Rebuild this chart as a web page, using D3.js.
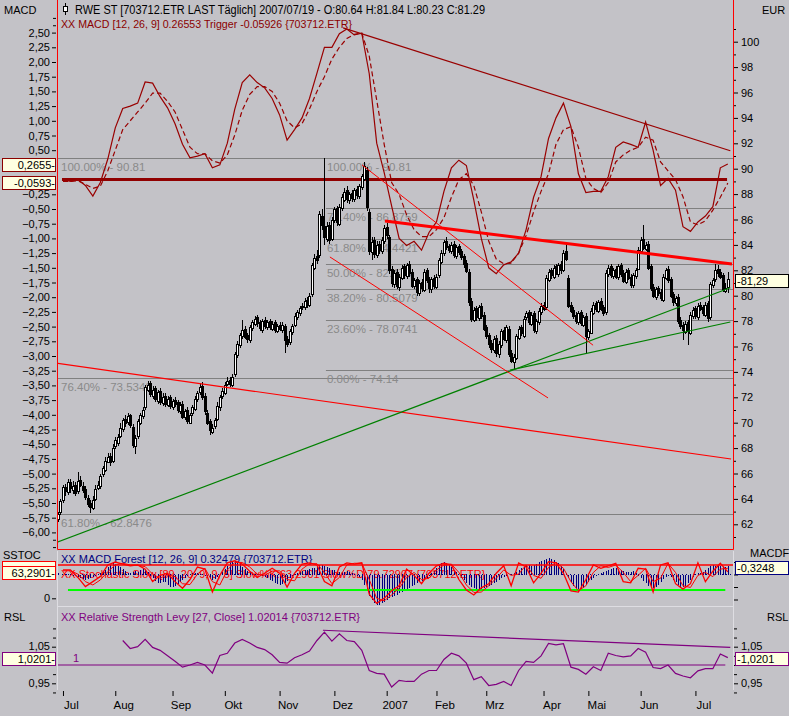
<!DOCTYPE html>
<html>
<head>
<meta charset="utf-8">
<script src="https://cdn.jsdelivr.net/npm/d3@7"></script>
<style>
  html, body { margin: 0; padding: 0; background: #c3c2c7; }
  svg { display: block; font-family: "Liberation Sans", Arial, sans-serif; font-size: 11px; }
</style>
</head>
<body>
<svg id="chart" width="789" height="716"></svg>
<script>
// ---- data (bar index 0 = first candle, 269 = 2007/07/19) ----
const opens = [
  62.4, 62.9, 63.9, 64.9, 64.5, 65.3, 64.7, 65.1, 64.6, 65.5,
  65.0, 64.8, 64.1, 63.7, 63.3, 64.0, 64.9, 65.0, 65.9, 66.3,
  66.9, 67.4, 67.0, 68.1, 68.4, 69.0, 69.5, 70.3, 70.0, 70.6,
  69.7, 68.2, 68.9, 70.0, 70.5, 71.2, 72.6, 73.1, 72.1, 72.7,
  71.7, 72.5, 71.5, 72.1, 71.4, 72.0, 71.2, 71.8, 71.6, 70.9,
  71.5, 70.4, 71.0, 70.0, 70.7, 71.1, 71.8, 72.4, 72.9, 72.1,
  70.8, 70.1, 69.3, 69.7, 70.3, 71.2, 72.1, 72.4, 73.1, 73.4,
  73.0, 73.8, 75.3, 76.1, 76.8, 77.4, 76.9, 76.5, 77.4, 77.8,
  78.3, 77.9, 77.3, 78.1, 77.5, 78.0, 77.4, 77.9, 77.2, 77.7,
  77.3, 77.6, 76.6, 76.3, 77.1, 77.7, 78.3, 78.6, 79.1, 79.1,
  79.7, 79.3, 80.1, 82.2, 83.1, 83.2, 86.3, 85.5, 84.5, 85.6,
  84.5, 85.9, 86.9, 85.7, 86.9, 87.6, 88.3, 87.5, 88.1, 87.6,
  88.4, 87.8, 88.5, 89.2, 89.9, 86.6, 83.4, 84.4, 83.2, 84.1,
  83.5, 84.3, 85.4, 84.6, 82.1, 80.9, 81.9, 80.7, 81.4, 82.3,
  81.5, 82.5, 81.9, 80.7, 81.3, 80.2, 81.1, 80.5, 82.0, 81.3,
  80.5, 81.4, 80.7, 81.6, 82.7, 83.3, 84.3, 83.9, 83.5, 84.1,
  83.1, 83.9, 83.5, 83.1, 82.6, 81.9, 79.6, 78.1, 79.0, 78.2,
  79.2, 78.5, 77.5, 76.9, 76.3, 75.7, 76.7, 75.4, 76.1, 77.3,
  76.5, 77.4, 75.5, 74.8, 75.1, 76.7, 77.5, 76.9, 78.3, 78.7,
  77.8, 78.6, 77.2, 77.9, 78.7, 79.3, 79.1, 81.3, 82.0, 81.5,
  82.3, 81.7, 82.5, 82.1, 83.5, 81.4, 79.3, 78.9, 78.5, 77.9,
  78.7, 77.7, 78.4, 76.7, 77.1, 78.7, 79.4, 78.8, 79.6, 79.1,
  78.7, 81.7, 82.3, 81.5, 82.1, 81.4, 82.4, 81.8, 81.1, 82.0,
  81.5, 80.8, 81.5, 82.1, 83.5, 84.5, 83.7, 84.1, 82.3, 80.7,
  79.9, 80.6, 80.3, 79.7, 81.4, 82.1, 81.3, 80.1, 79.4, 79.9,
  78.1, 77.7, 77.2, 77.9, 77.1, 78.4, 79.0, 78.3, 79.3, 79.1,
  78.5, 79.4, 78.3, 80.8, 81.3, 82.1, 81.9, 81.6, 80.4, 80.64
];
const highs = [
  63.0, 64.0, 65.1, 65.2, 65.6, 65.6, 65.4, 65.3, 66.1, 65.8,
  65.3, 65.0, 64.3, 63.9, 64.2, 65.1, 65.4, 66.0, 66.6, 67.3,
  67.6, 67.6, 68.3, 68.9, 69.1, 70.0, 70.4, 70.6, 70.8, 70.7,
  69.9, 69.0, 70.3, 70.8, 71.2, 73.0, 73.3, 73.3, 72.9, 72.9,
  72.6, 72.7, 72.3, 72.3, 72.1, 72.2, 71.9, 72.0, 71.8, 71.6,
  71.7, 71.1, 71.2, 70.8, 71.4, 72.1, 72.5, 73.1, 73.2, 72.3,
  71.0, 70.3, 69.9, 70.4, 71.6, 72.2, 72.7, 73.2, 73.6, 73.6,
  73.8, 75.6, 76.4, 77.1, 78.1, 77.6, 77.1, 77.7, 78.1, 78.4,
  78.5, 78.1, 78.2, 78.3, 78.1, 78.2, 78.0, 78.1, 77.8, 77.9,
  77.9, 77.8, 76.8, 77.4, 77.8, 78.6, 78.9, 79.2, 79.4, 79.8,
  79.9, 80.2, 82.6, 83.3, 83.6, 86.7, 86.8, 90.81, 85.8, 85.8,
  86.2, 87.0, 87.1, 87.2, 88.0, 88.5, 88.6, 88.2, 88.3, 88.5,
  88.6, 88.8, 89.6, 90.5, 90.1, 86.8, 84.6, 84.6, 84.3, 84.3,
  84.6, 85.6, 85.7, 84.8, 82.3, 82.0, 82.1, 81.7, 82.4, 82.5,
  82.6, 82.7, 82.1, 81.4, 81.5, 81.2, 81.3, 82.1, 82.2, 81.5,
  81.5, 81.6, 81.7, 83.0, 83.6, 84.4, 84.6, 84.1, 84.2, 84.3,
  84.0, 84.1, 83.7, 83.3, 82.8, 82.1, 79.8, 79.1, 79.2, 79.3,
  79.4, 78.7, 77.7, 77.1, 76.5, 76.8, 76.9, 76.4, 77.4, 77.5,
  77.7, 77.6, 75.7, 75.4, 77.0, 77.6, 77.7, 78.4, 78.8, 78.9,
  78.7, 78.8, 78.2, 79.0, 79.4, 79.5, 81.6, 82.1, 82.2, 82.4,
  82.5, 82.6, 82.7, 83.6, 84.1, 81.6, 79.5, 79.1, 78.7, 78.8,
  78.9, 78.5, 78.6, 77.4, 79.0, 79.5, 79.6, 79.7, 79.8, 79.3,
  82.0, 82.4, 82.5, 82.2, 82.3, 82.5, 82.6, 82.0, 82.1, 82.2,
  81.7, 81.8, 82.2, 83.8, 84.6, 85.6, 84.2, 84.3, 82.5, 80.9,
  80.7, 80.8, 80.5, 81.7, 82.2, 82.3, 81.5, 80.3, 80.0, 80.1,
  78.3, 77.9, 78.0, 78.1, 78.7, 79.1, 79.2, 79.4, 79.5, 79.3,
  79.5, 79.6, 81.1, 81.4, 82.5, 82.4, 82.1, 81.8, 81.0, 81.84
];
const lows = [
  62.2, 62.7, 63.7, 64.2, 64.3, 64.5, 64.4, 64.2, 64.4, 64.9,
  64.5, 63.9, 63.4, 62.9, 63.1, 63.8, 64.7, 64.8, 65.7, 66.1,
  66.8, 66.6, 66.8, 67.9, 68.2, 68.8, 69.3, 69.7, 69.8, 69.6,
  68.0, 67.5, 68.7, 69.8, 70.3, 71.0, 72.4, 72.0, 71.9, 71.6,
  71.5, 71.4, 71.3, 71.2, 71.2, 71.1, 71.0, 71.2, 70.8, 70.7,
  70.3, 70.2, 69.9, 69.9, 70.5, 70.9, 71.6, 72.2, 71.8, 70.6,
  69.8, 69.0, 69.1, 69.5, 70.1, 70.9, 71.9, 72.2, 72.9, 72.8,
  72.8, 73.6, 75.1, 75.9, 76.6, 76.6, 76.3, 76.3, 77.2, 77.6,
  77.5, 77.2, 77.1, 77.4, 77.3, 77.3, 77.2, 77.1, 77.1, 77.2,
  77.1, 75.5, 76.0, 76.1, 76.9, 77.5, 78.1, 78.4, 78.9, 78.9,
  79.0, 79.1, 79.9, 82.0, 82.5, 83.0, 85.2, 84.0, 84.2, 84.1,
  84.3, 85.7, 85.5, 85.5, 86.7, 87.4, 87.3, 87.2, 87.4, 87.4,
  87.6, 87.6, 88.3, 89.0, 86.7, 83.2, 82.8, 83.0, 83.0, 83.3,
  83.3, 84.1, 84.5, 81.7, 80.7, 80.6, 80.5, 80.4, 81.2, 81.3,
  81.3, 81.5, 80.6, 80.5, 80.0, 80.0, 80.3, 80.3, 81.0, 80.2,
  80.2, 80.5, 80.5, 81.4, 82.5, 83.1, 83.6, 83.4, 83.3, 83.0,
  82.9, 83.2, 82.8, 82.2, 81.8, 79.2, 77.9, 77.9, 78.0, 78.0,
  78.2, 77.2, 76.6, 75.9, 75.5, 75.5, 75.2, 75.1, 75.9, 76.4,
  76.3, 75.2, 74.7, 74.14, 74.9, 76.5, 76.8, 76.7, 78.1, 77.7,
  77.6, 77.1, 77.0, 77.7, 78.5, 78.8, 78.9, 81.1, 81.3, 81.3,
  81.6, 81.5, 81.7, 81.9, 82.7, 79.0, 78.6, 78.2, 77.8, 77.7,
  77.6, 77.5, 75.5, 76.5, 77.0, 78.5, 78.7, 78.6, 78.8, 78.4,
  78.5, 81.5, 81.4, 81.3, 81.3, 81.2, 81.5, 81.0, 80.9, 81.2,
  80.6, 80.6, 81.3, 82.0, 83.3, 83.6, 83.5, 82.0, 80.4, 79.8,
  79.7, 80.0, 79.6, 79.5, 81.2, 81.0, 79.8, 79.2, 79.2, 77.8,
  77.4, 76.5, 77.0, 76.1, 76.9, 78.2, 78.2, 78.1, 78.8, 78.4,
  78.3, 77.9, 78.1, 80.6, 81.1, 81.5, 81.3, 80.3, 80.2, 80.23
];
const closes = [
  62.8, 63.8, 64.9, 64.6, 65.3, 64.8, 65.0, 64.5, 65.4, 65.1,
  64.7, 64.2, 63.6, 63.4, 63.9, 64.8, 65.1, 65.8, 66.4, 67.0,
  67.3, 66.9, 68.0, 68.6, 68.9, 69.6, 70.2, 70.0, 70.5, 69.8,
  68.3, 68.8, 70.1, 70.6, 71.0, 72.8, 73.0, 72.2, 72.6, 71.8,
  72.4, 71.6, 72.0, 71.5, 71.9, 71.3, 71.7, 71.5, 71.0, 71.4,
  70.5, 70.9, 70.1, 70.6, 71.2, 71.9, 72.3, 72.8, 72.0, 70.9,
  70.0, 69.4, 69.6, 70.2, 71.3, 72.0, 72.5, 73.0, 73.3, 73.1,
  73.6, 75.4, 76.2, 76.9, 77.3, 76.8, 76.6, 77.5, 77.9, 78.2,
  77.8, 77.4, 78.0, 77.6, 77.9, 77.5, 77.8, 77.3, 77.6, 77.4,
  77.7, 76.5, 76.2, 77.2, 77.6, 78.4, 78.7, 79.0, 79.2, 79.6,
  79.4, 80.0, 82.4, 83.0, 82.8, 86.4, 85.6, 84.6, 85.5, 84.4,
  86.0, 86.8, 85.8, 87.0, 87.8, 88.2, 87.6, 88.0, 87.7, 88.3,
  87.9, 88.6, 89.4, 90.2, 87.0, 83.5, 84.2, 83.3, 84.0, 83.6,
  84.4, 85.3, 84.8, 82.0, 81.0, 81.8, 80.8, 81.5, 82.2, 81.6,
  82.4, 81.8, 80.8, 81.2, 80.3, 81.0, 80.6, 81.9, 81.2, 80.6,
  81.3, 80.8, 81.5, 82.8, 83.4, 84.2, 83.8, 83.6, 84.0, 83.2,
  83.8, 83.4, 83.0, 82.5, 82.0, 79.5, 78.2, 78.9, 78.3, 79.1,
  78.4, 77.4, 76.8, 76.2, 75.8, 76.6, 75.5, 76.2, 77.2, 76.6,
  77.5, 75.4, 74.9, 75.2, 76.8, 77.4, 77.0, 78.2, 78.6, 77.9,
  78.5, 77.3, 78.0, 78.8, 79.2, 79.0, 81.4, 81.9, 81.6, 82.2,
  81.8, 82.4, 82.0, 83.4, 82.9, 79.2, 78.8, 78.4, 78.0, 78.6,
  77.8, 78.3, 76.8, 77.2, 78.8, 79.3, 78.9, 79.5, 79.0, 78.6,
  81.8, 82.2, 81.6, 82.0, 81.5, 82.3, 81.7, 81.2, 81.9, 81.4,
  80.9, 81.6, 82.0, 83.6, 84.4, 83.8, 84.0, 82.2, 80.6, 80.0,
  80.5, 80.2, 79.8, 81.5, 82.0, 81.2, 80.0, 79.5, 79.8, 78.0,
  77.6, 77.3, 77.8, 77.2, 78.5, 78.9, 78.4, 79.2, 79.0, 78.6,
  79.3, 78.2, 80.9, 81.2, 82.0, 81.8, 81.5, 80.5, 80.6, 81.29
];

// MACD, trigger and stochastics read every third bar, starting at bar 2
const macdVals = [
  0.0, -0.03, 0.0, -0.1, -0.28, -0.05, 0.35, 0.88, 1.21, 1.25,
  1.3, 1.66, 1.64, 1.41, 1.22, 0.95, 0.6, 0.37, 0.4, 0.44,
  0.2, 0.25, 0.62, 1.2, 1.65, 1.78, 1.65, 1.56, 1.38, 1.1,
  0.67, 0.85, 1.05, 1.38, 1.81, 2.25, 2.25, 2.48, 2.56, 2.46,
  2.49, 1.8, 0.62, 0.12, -0.45, -1.0, -1.12, -1.05, -1.2, -0.9,
  -0.72, -0.2, 0.2, 0.33, 0.24, -0.35, -1.0, -1.5, -1.6, -1.45,
  -1.4, -1.25, -0.85, -0.3, 0.05, 0.7, 1.05, 1.3, 0.9, 0.1,
  -0.22, -0.2, -0.2, 0.05, 0.55, 0.64, 0.6, 0.55, 0.98, 0.5,
  -0.1, 0.02, -0.18, -0.8, -0.88, -0.72, -0.62, -0.46, 0.2, 0.2655
];
const triggerVals = [
  -0.03, -0.03, -0.02, -0.08, -0.15, -0.11, 0.15, 0.5, 0.85, 1.0,
  1.15, 1.3, 1.47, 1.47, 1.33, 1.15, 0.85, 0.55, 0.44, 0.44,
  0.32, 0.28, 0.42, 0.76, 1.18, 1.45, 1.58, 1.58, 1.5, 1.3,
  1.0, 0.88, 0.95, 1.2, 1.5, 1.75, 2.05, 2.25, 2.4, 2.47,
  2.49, 2.1, 1.35, 0.6, -0.05, -0.25, -0.6, -0.85, -0.97, -0.97,
  -0.85, -0.65, -0.3, 0.0, 0.1, -0.1, -0.55, -1.05, -1.35, -1.43,
  -1.42, -1.25, -0.95, -0.55, -0.2, 0.1, 0.6, 0.85, 0.9, 0.55,
  0.02, -0.15, -0.22, -0.05, 0.3, 0.42, 0.5, 0.55, 0.72, 0.67,
  0.3, 0.15, 0.0, -0.29, -0.72, -0.77, -0.7, -0.52, -0.3, -0.0593
];
const stochK = [
  68, 68, 50, 28, 40, 52, 80, 87, 82, 78,
  80, 70, 40, 55, 60, 40, 24, 45, 75, 70,
  15, 55, 85, 90, 82, 65, 50, 60, 72, 60,
  27, 60, 82, 85, 80, 40, 30, 75, 85, 82,
  85, 10, -12, 0, 18, 30, 70, 55, 35, 60,
  78, 84, 80, 45, 20, 8, 25, 35, 60, 78,
  30, 85, 75, 37, 60, 88, 85, 60, 18, 15,
  45, 80, 72, 78, 84, 40, 37, 72, 70, 15,
  80, 85, 35, 22, 35, 85, 40, 65, 84, 63.29
];
const stochD = [
  66, 66, 58, 40, 32, 44, 64, 80, 84, 80,
  79, 76, 58, 48, 57, 52, 35, 33, 58, 72,
  40, 32, 68, 86, 86, 75, 58, 55, 65, 66,
  45, 42, 70, 83, 83, 62, 35, 50, 80, 84,
  84, 45, 0, -6, 8, 24, 50, 62, 45, 48,
  68, 80, 82, 62, 32, 14, 15, 30, 48, 68,
  55, 58, 80, 55, 48, 74, 86, 72, 40, 18,
  30, 62, 78, 74, 80, 62, 40, 55, 72, 40,
  48, 84, 62, 30, 26, 55, 62, 52, 70, 72
];

// MACD forest, one value per bar
const forestVals = [
  0.05, 0.0, -0.02, 0.03, 0.02, -0.03, -0.05, -0.04, -0.08, -0.12,
  -0.16, -0.2, -0.18, -0.14, -0.1, -0.05, 0.02, 0.06, 0.1, 0.2,
  0.3, 0.38, 0.45, 0.42, 0.36, 0.3, 0.22, 0.15, 0.08, 0.05,
  0.1, 0.15, 0.12, 0.2, 0.25, 0.18, 0.1, -0.05, -0.15, -0.25,
  -0.32, -0.35, -0.3, -0.3, -0.4, -0.48, -0.5, -0.45, -0.38, -0.3,
  -0.2, -0.12, -0.05, 0.02, 0.06, 0.08, 0.05, 0.02, -0.02, -0.06,
  -0.12, -0.18, -0.22, -0.18, -0.1, -0.02, 0.1, 0.22, 0.35, 0.45,
  0.52, 0.55, 0.5, 0.42, 0.32, 0.22, 0.15, 0.1, 0.06, 0.04,
  0.02, 0.0, -0.04, -0.08, -0.14, -0.2, -0.26, -0.32, -0.36, -0.4,
  -0.38, -0.33, -0.25, -0.15, -0.06, 0.02, 0.08, 0.12, 0.15, 0.18,
  0.2, 0.22, 0.25, 0.28, 0.32, 0.38, 0.4, 0.36, 0.3, 0.25,
  0.2, 0.18, 0.15, 0.12, 0.1, 0.12, 0.15, 0.1, 0.06, 0.02,
  -0.05, -0.1, -0.2, -0.4, -0.65, -0.85, -1.0, -1.12, -1.2, -1.2,
  -1.15, -1.1, -1.0, -0.95, -0.9, -0.85, -0.8, -0.75, -0.7, -0.62,
  -0.58, -0.52, -0.45, -0.4, -0.35, -0.3, -0.25, -0.18, -0.12, -0.05,
  0.05, 0.15, 0.28, 0.38, 0.45, 0.5, 0.48, 0.4, 0.3, 0.2,
  0.12, -0.02, -0.12, -0.22, -0.32, -0.42, -0.5, -0.55, -0.6, -0.62,
  -0.6, -0.55, -0.5, -0.45, -0.4, -0.35, -0.28, -0.2, -0.15, -0.1,
  -0.06, -0.02, 0.02, 0.06, 0.12, 0.18, 0.25, 0.3, 0.35, 0.38,
  0.35, 0.38, 0.42, 0.5, 0.55, 0.6, 0.64, 0.66, 0.62, 0.58,
  0.52, 0.45, 0.35, 0.22, 0.05, -0.12, -0.3, -0.45, -0.55, -0.62,
  -0.6, -0.52, -0.42, -0.3, -0.2, -0.12, -0.05, 0.02, 0.06, 0.1,
  0.15, 0.2, 0.24, 0.27, 0.25, 0.22, 0.18, 0.15, 0.12, 0.1,
  0.12, 0.14, 0.08, -0.05, -0.15, -0.25, -0.35, -0.45, -0.52, -0.55,
  -0.5, -0.42, -0.3, -0.18, -0.08, -0.04, -0.1, -0.2, -0.3, -0.4,
  -0.48, -0.5, -0.45, -0.35, -0.2, -0.08, 0.02, 0.06, 0.08, 0.12,
  0.2, 0.28, 0.35, 0.38, 0.36, 0.35, 0.33, 0.3, 0.32, 0.3248
];

// Relative Strength Levy, every third bar from bar 26
const rslVals = [
  1.067, 1.045, 1.05, 1.07, 1.048, 1.04, 1.025, 1.01, 0.994, 1.0,
  1.007, 1.0, 0.978, 1.026, 1.032, 1.06, 1.07, 1.06, 1.048, 1.042,
  1.028, 1.007, 1.005, 1.02, 1.028, 1.038, 1.067, 1.09, 1.065, 1.085,
  1.067, 1.064, 1.04, 0.985, 0.977, 0.975, 0.94, 0.958, 0.955, 0.955,
  0.975, 0.985, 0.985, 1.015, 1.032, 1.025, 1.005, 0.96, 0.968, 0.944,
  0.947, 0.955, 0.944, 0.985, 1.01, 1.007, 1.025, 1.059, 1.055, 1.058,
  0.994, 0.988, 0.975, 0.995, 0.985, 1.032, 1.026, 1.022, 1.025, 1.045,
  1.035, 0.993, 0.99, 1.0, 0.977, 0.97, 0.965, 0.984, 0.99, 0.99,
  1.03, 1.0201
];

// Fibonacci retracements
const fibWideLevels = ["100.00", "76.40", "61.80"];
const fibWideValues = [90.81, 73.5348, 62.8476];
const fibLevels = ["100.00", "76.40", "61.80", "50.00", "38.20", "23.60", "0.00"];
const fibValues = [90.81, 86.8759, 84.4421, 82.475, 80.5079, 78.0741, 74.14];

// trend lines as [bar, value] end points
const macdTrend = [[114.5, 2.58], [270, 0.49]];
const redLongTrend = [[-0.4, 74.68], [270.3, 67.14]];
const greenLongTrend = [[-0.4, 60.58], [270, 80.63]];
const greenShortTrend = [[181.5, 74.14], [270, 77.93]];
const channelLower = [[109.2, 83.05], [196.8, 71.95]];
const channelUpper = [[122.1, 90.3], [214.9, 76.1]];
const resistance = [[131.3, 85.88], [270.7, 82.5]];
const rslTrend = [[106.4, 1.095], [270, 1.048]];

// month axis
const monthIdx = [2, 23, 46, 67, 89, 111, 132, 152, 172, 195, 213, 234, 256];
const monthLabels = ["Jul", "Aug", "Sep", "Okt", "Nov", "Dez", "2007", "Feb", "Mrz", "Apr", "Mai", "Jun", "Jul"];

// ---- drawing ----
const svg = d3.select('#chart');
const FONT = '"Liberation Sans", Arial, sans-serif';
const DARKRED = '#8b0000';

const x = d3.scaleLinear().domain([0, 269]).range([58, 727.8]);
const yPrice = d3.scaleLinear().domain([62, 100]).range([524.3, 41.7]);
const yMacd = d3.scaleLinear().domain([-6, 2.5]).range([532.4, 32.6]);
const yStoch = d3.scaleLinear().domain([0, 100]).range([598.3, 556.6]);
const yForest = d3.scaleLinear().domain([-1, 0.5]).range([599.5, 562]);
const yRsl = d3.scaleLinear().domain([0.95, 1.05]).range([683.3, 646.7]);
const comma = f => v => d3.format(f)(v).replace('.', ',');

const sampleIdx = d3.range(2, 270, 3);
const rslIdx = d3.range(26, 270, 3);

svg.append('rect').attr('width', 789).attr('height', 716).attr('fill', '#c3c2c7');

const defs = svg.append('defs');
function clip(id, x0, y0, w, h) {
  defs.append('clipPath').attr('id', id).append('rect')
    .attr('x', x0).attr('y', y0).attr('width', w).attr('height', h);
}
clip('cMain', 58, 0, 675, 549);
clip('cStoc', 58, 551, 675, 54);
clip('cRsl', 58, 607, 675, 83);

const main = svg.append('g').attr('clip-path', 'url(#cMain)');
const stoc = svg.append('g').attr('clip-path', 'url(#cStoc)');
const rsl = svg.append('g').attr('clip-path', 'url(#cRsl)');

function segment(g, pts, ys, color, width) {
  return g.append('line')
    .attr('x1', x(pts[0][0])).attr('y1', ys(pts[0][1]))
    .attr('x2', x(pts[1][0])).attr('y2', ys(pts[1][1]))
    .attr('stroke', color).attr('stroke-width', width);
}

// Fibonacci lines and labels
function fibSet(levels, values, startIdx, dx) {
  levels.forEach((lv, k) => {
    const yy = Math.round(yPrice(values[k])) + 0.5;
    main.append('line').attr('x1', x(startIdx)).attr('x2', 733)
      .attr('y1', yy).attr('y2', yy).attr('stroke', '#808080');
    main.append('text').attr('x', x(startIdx) + dx).attr('y', yy + 12)
      .attr('fill', '#8a8a8a').attr('font-size', 11.5).text(`${lv}% - ${values[k]}`);
  });
}
fibSet(fibWideLevels, fibWideValues, -0.4, 4);
fibSet(fibLevels, fibValues, 107.6, 1);

// MACD zero line
main.append('line').attr('x1', x(1.6)).attr('x2', x(268.7))
  .attr('y1', yMacd(0)).attr('y2', yMacd(0))
  .attr('stroke', '#900000').attr('stroke-width', 3);

// candles
const bars = closes.map((c, i) => ({ i, o: opens[i], h: highs[i], l: lows[i], c }));
const cg = main.append('g').attr('shape-rendering', 'crispEdges');
cg.selectAll('line').data(bars).join('line')
  .attr('x1', d => Math.round(x(d.i)) + 0.5).attr('x2', d => Math.round(x(d.i)) + 0.5)
  .attr('y1', d => yPrice(Math.max(d.h, d.o, d.c))).attr('y2', d => yPrice(Math.min(d.l, d.o, d.c)))
  .attr('stroke', '#000');
cg.selectAll('rect').data(bars).join('rect')
  .attr('x', d => Math.round(x(d.i)) - 0.5)
  .attr('width', 2)
  .attr('y', d => Math.round(yPrice(Math.max(d.o, d.c))) + 0.5)
  .attr('height', d => Math.max(1, Math.round(Math.abs(yPrice(d.o) - yPrice(d.c)))))
  .attr('fill', d => d.c >= d.o ? '#fff' : '#000')
  .attr('stroke', '#000');

// MACD and trigger
const macdLine = d3.line().x((d, k) => x(sampleIdx[k])).y(d => yMacd(d));
main.append('path').attr('d', macdLine(macdVals))
  .attr('fill', 'none').attr('stroke', '#990000').attr('stroke-width', 1.2);
main.append('path').attr('d', macdLine(triggerVals))
  .attr('fill', 'none').attr('stroke', '#990000').attr('stroke-width', 1.2)
  .attr('stroke-dasharray', '5,3');
segment(main, macdTrend, yMacd, '#990000', 1.2);

// price trend lines
segment(main, redLongTrend, yPrice, '#ff0000', 1.2);
segment(main, greenLongTrend, yPrice, '#008000', 1.2);
segment(main, greenShortTrend, yPrice, '#008000', 1.2);
segment(main, channelLower, yPrice, '#ff0000', 1);
segment(main, channelUpper, yPrice, '#ff0000', 1);
segment(main, resistance, yPrice, '#ff0000', 3);

// main panel frame
svg.append('path').attr('d', 'M57.5,0V549.5H733.5V0')
  .attr('fill', 'none').attr('stroke', '#ff0000');

// ---- stochastic / MACD forest panel ----
stoc.append('text').attr('x', 61).attr('y', 563).attr('fill', '#000080')
  .text('XX MACD Forest [12, 26, 9] 0.32479 {703712.ETR}');
stoc.append('text').attr('x', 61).attr('y', 578).attr('fill', '#ff0000')
  .text('XX Stochastic Slow [89, 20, 9, 9, 5] Slow%K:63.2901 Slow%D:79.72907 {703712.ETR}');
stoc.append('line').attr('x1', 58).attr('x2', 733)
  .attr('y1', yForest(0)).attr('y2', yForest(0))
  .attr('stroke', '#000080').attr('stroke-dasharray', '1,3');
stoc.append('g').attr('shape-rendering', 'crispEdges')
  .selectAll('line').data(forestVals).join('line')
  .attr('x1', (d, i) => Math.round(x(i)) + 0.5).attr('x2', (d, i) => Math.round(x(i)) + 0.5)
  .attr('y1', yForest(0)).attr('y2', d => yForest(d))
  .attr('stroke', '#000080');
stoc.append('line').attr('x1', 58).attr('x2', 733)
  .attr('y1', yStoch(80)).attr('y2', yStoch(80))
  .attr('stroke', '#ff0000').attr('stroke-width', 1.5);
stoc.append('line').attr('x1', x(4)).attr('x2', x(268))
  .attr('y1', yStoch(20)).attr('y2', yStoch(20))
  .attr('stroke', '#00ff00').attr('stroke-width', 2);
const stochLine = d3.line().x((d, k) => x(sampleIdx[k])).y(d => yStoch(d));
stoc.append('path').attr('d', stochLine(stochD))
  .attr('fill', 'none').attr('stroke', '#ff0000').attr('stroke-width', 1);
stoc.append('path').attr('d', stochLine(stochK))
  .attr('fill', 'none').attr('stroke', '#ff0000').attr('stroke-width', 1.3);

// ---- RSL panel ----
rsl.append('text').attr('x', 61).attr('y', 621).attr('fill', '#800080')
  .text('XX Relative Strength Levy [27, Close] 1.02014 {703712.ETR}');
rsl.append('line').attr('x1', 58).attr('x2', x(268))
  .attr('y1', yRsl(1)).attr('y2', yRsl(1)).attr('stroke', '#800080').attr('stroke-width', 1.2);
rsl.append('text').attr('x', 73).attr('y', 662).attr('fill', '#800080').text('1');
segment(rsl, rslTrend, yRsl, '#800080', 1.2);
rsl.append('path')
  .attr('d', d3.line().x((d, k) => x(rslIdx[k])).y(d => yRsl(d))(rslVals))
  .attr('fill', 'none').attr('stroke', '#800080').attr('stroke-width', 1.2);

// lower panel edges
svg.append('path').attr('d', 'M57.5,551V690 M733.5,551V690 M57,606.5H734')
  .attr('stroke', '#dedde2').attr('fill', 'none');

// ---- axes ----
function styleAxis(g) {
  g.select('.domain').remove();
  g.attr('font-family', FONT).attr('font-size', 11);
  g.selectAll('text').attr('fill', '#000');
  g.selectAll('line').attr('stroke', '#000');
  return g;
}
// labels hidden behind the value boxes are left out
const macdFmt = v => (v === 0 || v === 0.25) ? '' : comma('.2f')(v);
styleAxis(svg.append('g').attr('transform', 'translate(56,0)')
  .call(d3.axisLeft(yMacd).tickValues(d3.range(-24, 11).map(k => k / 4))
    .tickSize(4).tickPadding(2).tickFormat(macdFmt)));
styleAxis(svg.append('g').attr('transform', 'translate(56,0)')
  .call(d3.axisLeft(yMacd).tickValues([2.75, 2.625, -6.125, -6.25]).tickSize(3).tickFormat('')));
styleAxis(svg.append('g').attr('transform', 'translate(734,0)')
  .call(d3.axisRight(yPrice).tickValues(d3.range(62, 101, 2))
    .tickSize(4).tickPadding(3).tickFormat(d3.format('d'))));
styleAxis(svg.append('g').attr('transform', 'translate(734,0)')
  .call(d3.axisRight(yPrice).tickValues(d3.range(61, 102, 2)).tickSize(2).tickFormat('')));

styleAxis(svg.append('g').attr('transform', 'translate(56,0)')
  .call(d3.axisLeft(yStoch).tickValues([0, 50]).tickSize(4).tickPadding(2)
    .tickFormat(v => v === 0 ? '0' : '')));
styleAxis(svg.append('g').attr('transform', 'translate(734,0)')
  .call(d3.axisRight(yForest).tickValues([0.5, 0, -0.5, -1]).tickSize(4).tickFormat('')));

const rslFmt = v => v === 1 ? '' : comma('.2f')(v);
const rslLeft = styleAxis(svg.append('g').attr('transform', 'translate(56,0)')
  .call(d3.axisLeft(yRsl).tickValues([0.95, 1, 1.05]).tickSize(4).tickPadding(2).tickFormat(rslFmt)));
styleAxis(svg.append('g').attr('transform', 'translate(56,0)')
  .call(d3.axisLeft(yRsl).tickValues([0.925, 0.975, 1.025, 1.075, 1.1]).tickSize(3).tickFormat('')));
const rslRight = styleAxis(svg.append('g').attr('transform', 'translate(734,0)')
  .call(d3.axisRight(yRsl).tickValues([0.95, 1, 1.05]).tickSize(4).tickPadding(3).tickFormat(rslFmt)));
styleAxis(svg.append('g').attr('transform', 'translate(734,0)')
  .call(d3.axisRight(yRsl).tickValues([0.925, 0.975, 1.025, 1.075, 1.1]).tickSize(3).tickFormat('')));
[rslLeft, rslRight].forEach(g => g.selectAll('.tick text').attr('dy', '0.25em'));

const xAxis = styleAxis(svg.append('g').attr('transform', 'translate(0,691)')
  .call(d3.axisBottom(x).tickValues(monthIdx).tickSize(5).tickPadding(5)
    .tickFormat((d, k) => monthLabels[k])));
xAxis.selectAll('.tick text').attr('x', 8).attr('font-size', 11.5);

// ---- value boxes ----
function valueBox(x0, y0, stroke, label, anchor) {
  svg.append('rect').attr('x', x0 + 0.5).attr('y', y0 + 0.5).attr('width', 53).attr('height', 13)
    .attr('fill', '#ffffe1').attr('stroke', stroke);
  if (label) {
    svg.append('text').attr('x', anchor === 'end' ? x0 + 53 : x0 + 2).attr('y', y0 + 11)
      .attr('text-anchor', anchor).attr('fill', '#000').text(label);
  }
}
valueBox(2, 158, DARKRED, '0,2655-', 'end');
valueBox(2, 176, DARKRED, '-0,0593-', 'end');
valueBox(735, 274, '#000', '-81,29', 'start');
svg.append('text').attr('x', 750).attr('y', 557).text('MACDF');
valueBox(2, 561, '#ff0000', '', 'end');
valueBox(2, 566, '#ff0000', '63,2901-', 'end');
valueBox(735, 561, '#000080', '-0,3248', 'start');
valueBox(2, 652, '#800080', '1,0201-', 'end');
valueBox(735, 652, '#800080', '-1,0201', 'start');

// ---- titles ----
svg.append('text').attr('x', 4).attr('y', 14).text('MACD');
svg.append('text').attr('x', 762).attr('y', 14).text('EUR');
svg.append('text').attr('x', 3).attr('y', 559).text('SSTOC');
svg.append('text').attr('x', 4).attr('y', 621).text('RSL');
svg.append('text').attr('x', 767).attr('y', 621).text('RSL');
svg.append('line').attr('x1', 65.5).attr('x2', 65.5).attr('y1', 3).attr('y2', 15).attr('stroke', '#000');
svg.append('rect').attr('x', 63.5).attr('y', 6.5).attr('width', 4).attr('height', 5)
  .attr('fill', '#fff').attr('stroke', '#000');
svg.append('text').attr('x', 75).attr('y', 14).attr('font-size', 12)
  .attr('textLength', 410).attr('lengthAdjust', 'spacingAndGlyphs')
  .text('RWE ST [703712.ETR LAST Täglich] 2007/07/19 - O:80.64 H:81.84 L:80.23 C:81.29');
svg.append('text').attr('x', 61).attr('y', 28).attr('fill', DARKRED).attr('font-size', 11.5)
  .attr('textLength', 291).attr('lengthAdjust', 'spacingAndGlyphs')
  .text('XX MACD [12, 26, 9] 0.26553 Trigger -0.05926 {703712.ETR}');
</script>
</body>
</html>
